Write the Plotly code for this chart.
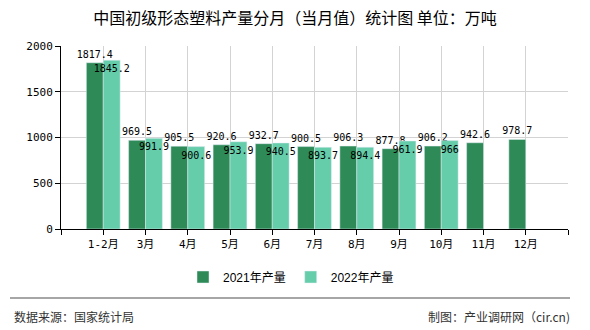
import plotly.graph_objects as go

categories = ["1-2月", "3月", "4月", "5月", "6月", "7月", "8月", "9月", "10月", "11月", "12月"]
values_2021 = [1817.4, 969.5, 905.5, 920.6, 932.7, 900.5, 906.3, 877.8, 906.2, 942.6, 978.7]
values_2022 = [1845.2, 991.9, 900.6, 953.9, 940.5, 893.7, 894.4, 961.9, 966]
series_names = ["2021年产量", "2022年产量"]
y_ticks = [0, 500, 1000, 1500, 2000]

idx = list(range(len(categories)))
label_font = dict(family="DejaVu Sans Mono, Noto Sans CJK SC", size=10, color="#000")

fig = go.Figure()
fig.add_trace(go.Bar(
    x=idx, y=values_2021, name=series_names[0], marker_color="#2E8B57",
    text=[str(v) for v in values_2021], textposition="outside", textangle=0,
    constraintext="none", cliponaxis=False, textfont=label_font,
))
fig.add_trace(go.Bar(
    x=idx[:len(values_2022)], y=values_2022, name=series_names[1], marker_color="#66CDAA",
    text=[("%g" % v) for v in values_2022], textposition="inside", insidetextanchor="end",
    textangle=0, constraintext="none", cliponaxis=False, textfont=label_font,
    insidetextfont=label_font,
))

tickvals = [-1] + idx + [len(categories)]
ticktext = [""] + categories + [""]

fig.update_layout(
    width=590, height=330,
    margin=dict(l=61, r=22, t=46, b=101),
    paper_bgcolor="white", plot_bgcolor="white",
    barmode="group", bargap=0.2, bargroupgap=0,
    uniformtext=dict(minsize=10, mode="show"),
    title=dict(text="中国初级形态塑料产量分月（当月值）统计图 单位：万吨",
               x=0.5, xanchor="center", y=1 - 18 / 330, yanchor="middle",
               font=dict(family="Noto Sans CJK SC", size=16, color="#000")),
    xaxis=dict(range=[-1, len(categories)], tickmode="array", tickvals=tickvals, ticktext=ticktext,
               showgrid=True, gridcolor="#d3d3d3", gridwidth=1,
               showline=True, linecolor="#000", linewidth=1,
               ticks="outside", ticklen=5, tickcolor="#000", zeroline=False,
               tickfont=dict(family="DejaVu Sans Mono, Noto Sans CJK SC", size=11, color="#000")),
    yaxis=dict(range=[0, 2000], tickmode="array", tickvals=y_ticks,
               showgrid=True, gridcolor="#d3d3d3", gridwidth=1,
               showline=True, linecolor="#000", linewidth=1,
               ticks="outside", ticklen=5, tickcolor="#000", zeroline=False,
               tickfont=dict(family="DejaVu Sans Mono", size=11, color="#000")),
    legend=dict(orientation="h", x=(291 - 61) / 507, xanchor="center", y=(229 - 277) / 183, yanchor="middle",
                font=dict(family="Liberation Sans, Noto Sans CJK SC", size=12, color="#000"),
                itemwidth=30, tracegroupgap=0),
    showlegend=True,
)

# footer separator and texts
fig.add_shape(type="line", xref="paper", yref="paper",
              x0=(10 - 61) / 507, x1=(570 - 61) / 507,
              y0=(229 - 298) / 183, y1=(229 - 298) / 183,
              line=dict(color="#888", width=1.5))
fig.add_annotation(xref="paper", yref="paper", x=(12 - 61) / 507, y=(229 - 316) / 183,
                   xanchor="left", yanchor="middle", showarrow=False,
                   text="数据来源：国家统计局",
                   font=dict(family="Noto Sans CJK SC", size=12, color="#333"))
fig.add_annotation(xref="paper", yref="paper", x=(572 - 61) / 507, y=(229 - 316) / 183,
                   xanchor="right", yanchor="middle", showarrow=False,
                   text="制图：产业调研网（cir.cn)",
                   font=dict(family="Noto Sans CJK SC", size=12, color="#333"))

fig.write_html("out.html")
